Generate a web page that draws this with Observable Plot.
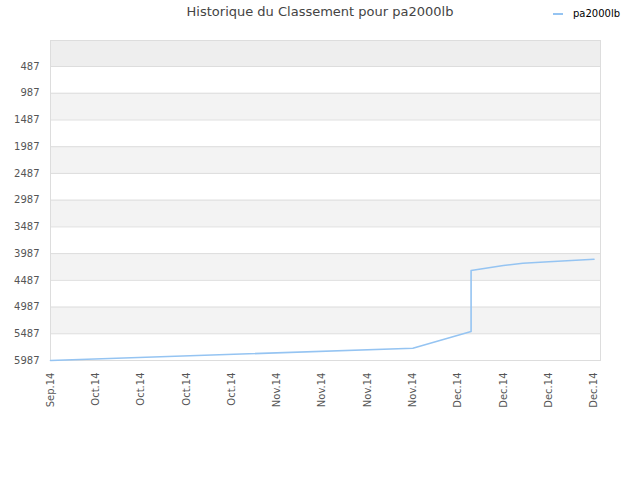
<!DOCTYPE html>
<html>
<head>
<meta charset="utf-8">
<script src="https://cdn.jsdelivr.net/npm/d3@7"></script>
<script src="https://cdn.jsdelivr.net/npm/@observablehq/plot@0.6"></script>
<style>
  body { margin: 0; background: #fff; font-family: "DejaVu Sans", sans-serif; }
  #wrap { position: relative; width: 640px; height: 480px; }
  #title { position: absolute; top: 4px; left: 0; width: 640px; text-align: center; font-size: 13px; color: #444; }
  #legend { position: absolute; top: 8px; left: 553px; font-size: 10px; color: #000; display: flex; align-items: center; }
  #legend span.sw { display: inline-block; width: 10px; height: 2px; background: #95c4f2; margin-right: 10px; }
</style>
</head>
<body>
<div id="wrap">
  <div id="title">Historique du Classement pour pa2000lb</div>
  <div id="legend"><span class="sw"></span><span>pa2000lb</span></div>
  <div id="chart"></div>
</div>
<script>
// Data (x = days since Sep 30, 2014; y = rank)
const seriesName = "pa2000lb";
const days  = [0,    56,   65,   65,   66,   70,   73,   77,   84];
const ranks = [5987, 5757, 5444, 4303, 4284, 4210, 4167, 4140, 4092];

// Tick values and labels
const yTicks = [487, 987, 1487, 1987, 2487, 2987, 3487, 3987, 4487, 4987, 5487, 5987];
const xTickDays = [0, 7, 14, 21, 28, 35, 42, 49, 56, 63, 70, 77, 84];
const xTickLabels = ["Sep.14", "Oct.14", "Oct.14", "Oct.14", "Oct.14", "Nov.14", "Nov.14", "Nov.14", "Nov.14", "Dec.14", "Dec.14", "Dec.14", "Dec.14"];

// Background bands
const bandStart = [0,   987,  1987, 2987, 3987, 4987];
const bandEnd   = [487, 1487, 2487, 3487, 4487, 5487];
const bandFill  = ["#eeeeee", "#f3f3f3", "#f3f3f3", "#f3f3f3", "#f3f3f3", "#f3f3f3"];

const points = days.map((d, i) => ({day: d, rank: ranks[i]}));
const bands = bandStart.map((s, i) => ({y1: s, y2: bandEnd[i], fill: bandFill[i]}));

const chart = Plot.plot({
  width: 640,
  height: 480,
  marginTop: 40,
  marginBottom: 120,
  marginLeft: 50,
  marginRight: 40,
  style: { fontFamily: "DejaVu Sans, sans-serif", fontSize: "10px", color: "#555", background: "transparent" },
  x: { domain: [0, 85] },
  y: { domain: [0, 5987], reverse: true },
  marks: [
    Plot.rect(bands, { x1: 0, x2: 85, y1: "y1", y2: "y2", fill: d => d.fill }),
    Plot.ruleY(yTicks, { stroke: "#dddddd", strokeWidth: 1 }),
    Plot.frame({ stroke: "#dddddd" }),
    Plot.axisY({ ticks: yTicks, tickSize: 0, tickPadding: 11, tickFormat: d => String(d), label: null, fill: "#555" }),
    Plot.axisX({ ticks: xTickDays, tickSize: 0, tickPadding: 12, tickRotate: -90,
      tickFormat: d => xTickLabels[xTickDays.indexOf(d)], label: null, fill: "#555" }),
    Plot.line(points, { x: "day", y: "rank", stroke: "#95c4f2", strokeWidth: 1.6 })
  ]
});
document.getElementById("chart").appendChild(chart);
</script>
</body>
</html>
